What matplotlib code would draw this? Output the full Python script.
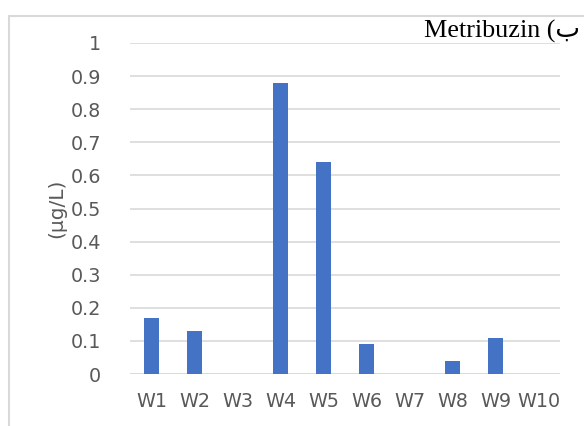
import matplotlib.pyplot as plt
from matplotlib.patches import Rectangle

wells = ["W1", "W2", "W3", "W4", "W5", "W6", "W7", "W8", "W9", "W10"]
metribuzin = [0.17, 0.13, 0, 0.88, 0.64, 0.09, 0, 0.04, 0.11, 0]
y_ticks = [0, 0.1, 0.2, 0.3, 0.4, 0.5, 0.6, 0.7, 0.8, 0.9, 1]
y_tick_labels = ["0", "0.1", "0.2", "0.3", "0.4", "0.5", "0.6", "0.7", "0.8", "0.9", "1"]

W, H = 584, 426
fig = plt.figure(figsize=(W / 100, H / 100), dpi=100)

# chart frame, runs off the right and bottom edges
fig.patches.append(Rectangle((9 / W, -0.05), 1.1, 1.05 - 16 / H, transform=fig.transFigure,
                             fill=False, edgecolor="#d9d9d9", linewidth=1.5))

ax = fig.add_axes([130 / W, 1 - 374 / H, 430 / W, 331 / H])
x = range(len(wells))
ax.bar(x, metribuzin, width=0.33, color="#4472C4", zorder=3)

ax.set_xlim(-0.5, len(wells) - 0.5)
ax.set_ylim(0, 1)
ax.set_yticks(y_ticks)
ax.set_yticklabels(y_tick_labels)
ax.set_xticks(list(x))
ax.set_xticklabels(wells)
ax.grid(axis="y", color="#d9d9d9", linewidth=1.2, zorder=1)
for side in ["top", "right", "left", "bottom"]:
    ax.spines[side].set_visible(False)
ax.axhline(0, color="#d9d9d9", linewidth=1.2, zorder=2)
ax.tick_params(axis="both", length=0, labelsize=13.8, labelcolor="#595959")
ax.tick_params(axis="y", pad=21)
ax.tick_params(axis="x", pad=13)

fig.text(57 / W, 1 - 208 / H, "(µg/L)", rotation=90, ha="center", va="center",
         fontsize=14.5, color="#595959")
fig.text(580 / W, 1 - 31 / H, "Metribuzin (ب", ha="right", va="center",
         fontsize=18.8, color="black", family=["Liberation Serif", "DejaVu Sans"])

fig.savefig("out.png", dpi=100, facecolor="white")
